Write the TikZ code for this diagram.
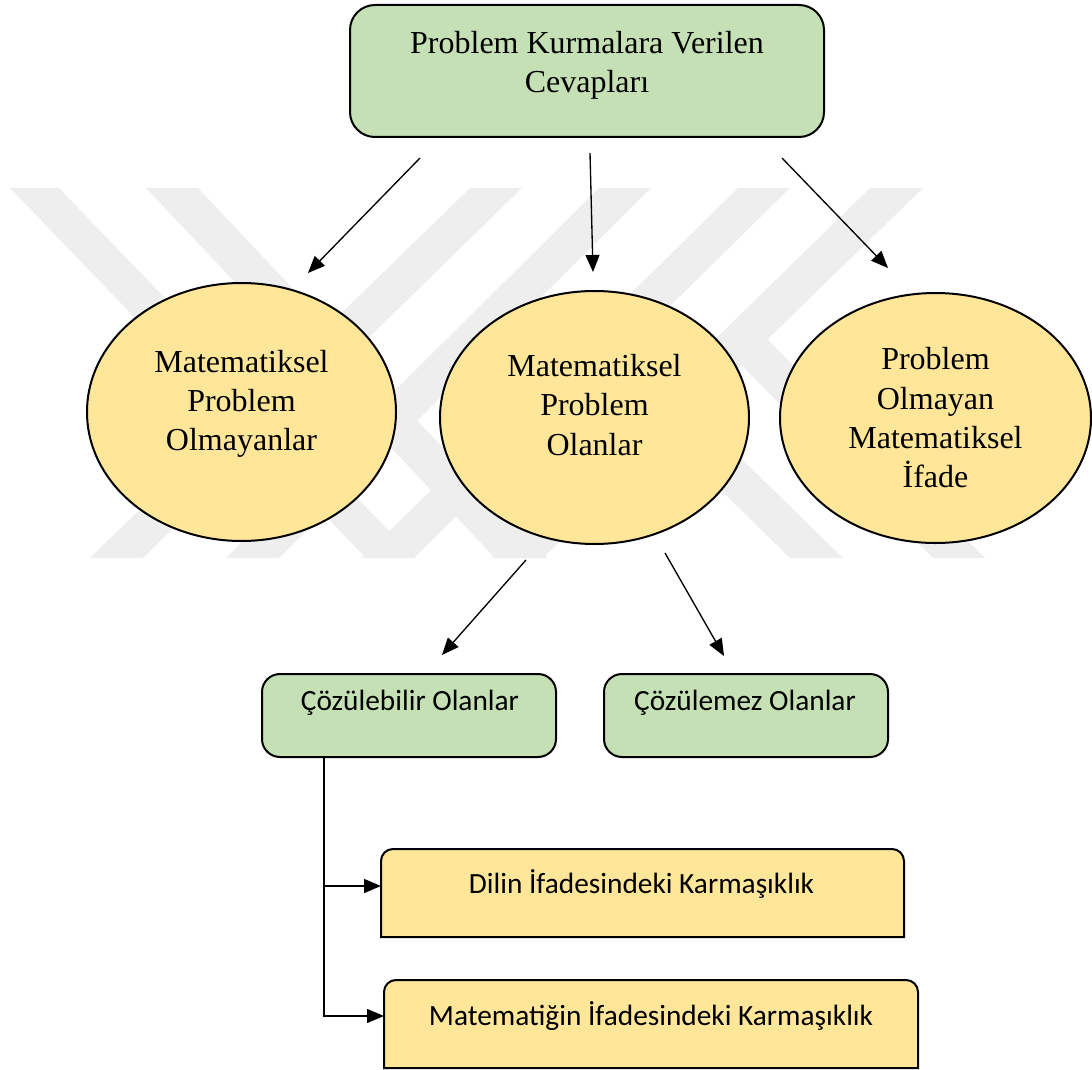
\documentclass[tikz,border=0pt]{standalone}
\usepackage{fontspec}
\setmainfont{Liberation Serif}
\newfontfamily\calibrifont{Carlito}
\usetikzlibrary{arrows.meta,shapes.geometric}
\definecolor{boxgreen}{HTML}{C5E0B4}
\definecolor{boxyellow}{HTML}{FFE699}
\definecolor{markgray}{HTML}{EEEEEE}

\begin{document}
\begin{tikzpicture}[x=0.75pt,y=-0.75pt,
  topbox/.style={draw=black,line width=1.5pt,fill=boxgreen,rounded corners=18.75pt,
    minimum width=355.5pt,minimum height=99pt,inner sep=0pt},
  greenbox/.style={draw=black,line width=1.5pt,fill=boxgreen,rounded corners=13.5pt,
    minimum height=62.25pt,inner sep=0pt},
  oval/.style={ellipse,draw=black,line width=1.5pt,fill=boxyellow,inner sep=0pt},
  tab/.style={minimum height=66pt,inner sep=0pt,outer sep=0pt},
  tabline/.style={draw=black,line width=1.5pt,fill=boxyellow},
  serif/.style={font=\fontsize{24}{29.5}\selectfont,align=center,inner sep=0pt},
  sans/.style={font=\calibrifont\fontsize{22}{26}\selectfont,inner sep=0pt,anchor=base},
  arr/.style={line width=1pt,-{Triangle[length=12.75pt,width=10.5pt]}},
  link/.style={line width=1pt},
  band/.style={fill=markgray,draw=none}
]
\useasboundingbox (0,0) rectangle (1092,1070);

% faint striped emblem in the background
\fill[band] (470,188) -- (522,188) -- (143,558) -- (90,558) -- cycle;
\fill[band] (599,188) -- (651,188) -- (279,558) -- (226,558) -- cycle;
\fill[band] (738,188) -- (790,188) -- (414,558) -- (362,558) -- cycle;
\fill[band] (870,188) -- (923,188) -- (543,558) -- (491,558) -- cycle;
\fill[band] (10,188) -- (59,188) -- (415,558) -- (366,558) -- cycle;
\fill[band] (146,188) -- (198,188) -- (547,558) -- (495,558) -- cycle;
\fill[band] (575,347) -- (627,347) -- (843,558) -- (790,558) -- cycle;
\fill[band] (716,340) -- (768,340) -- (985,558) -- (933,558) -- cycle;

% top box
\node[topbox] (top) at (587,71) {};
\node[serif] (toptxt) at (587,65) {Problem Kurmalara Verilen\\Cevapları};

% three categories
\node[oval,minimum width=231.75pt,minimum height=193.5pt] (e1) at (241.5,412) {};
\node[serif] (e1t) at (241.5,404) {Matematiksel\\Problem\\Olmayanlar};
\node[oval,minimum width=231.75pt,minimum height=189.75pt] (e2) at (594.5,417.5) {};
\node[serif] (e2t) at (594.5,405) {Matematiksel\\Problem\\Olanlar};
\node[oval,minimum width=233.25pt,minimum height=187.5pt] (e3) at (935.5,418) {};
\node[serif] (e3t) at (935.5,418) {Problem\\Olmayan\\Matematiksel\\İfade};

% solvable / unsolvable
\node[greenbox,minimum width=220.5pt] (ga) at (409,715.5) {};
\node[sans] (gat) at (410,710) {Çözülebilir Olanlar};
\node[greenbox,minimum width=213pt] (gb) at (746,715.5) {};
\node[sans] (gbt) at (745,710) {Çözülemez Olanlar};

% complexity boxes (rounded top corners only)
\node[tab,minimum width=392.25pt] (yc) at (642.5,893) {};
\node[tab,minimum width=400.5pt] (yd) at (651,1024) {};
\path[tabline] (yc.south west) -- ([yshift=-9pt]yc.north west)
  arc[start angle=180,end angle=90,radius=9pt] -- ([xshift=-9pt]yc.north east)
  arc[start angle=90,end angle=0,radius=9pt] -- (yc.south east) -- cycle;
\path[tabline] (yd.south west) -- ([yshift=-9pt]yd.north west)
  arc[start angle=180,end angle=90,radius=9pt] -- ([xshift=-9pt]yd.north east)
  arc[start angle=90,end angle=0,radius=9pt] -- (yd.south east) -- cycle;
\node[sans] (yct) at (641.5,893) {Dilin İfadesindeki Karmaşıklık};
\node[sans] (ydt) at (651,1025) {Matematiğin İfadesindeki Karmaşıklık};

% arrows from the top box
\coordinate (s1) at (420,158); \coordinate (t1) at (308,273);
\coordinate (s2) at (590,153); \coordinate (t2) at (593,272);
\coordinate (s3) at (782,158); \coordinate (t3) at (888,268);
\draw[arr] (s1) -- (t1);
\draw[arr] (s2) -- (t2);
\draw[arr] (s3) -- (t3);

% arrows below the middle ellipse
\coordinate (s4) at (526,560); \coordinate (t4) at (442,655);
\coordinate (s5) at (665,553); \coordinate (t5) at (724,656);
\draw[arr] (s4) -- (t4);
\draw[arr] (s5) -- (t5);

% elbow connector from the solvable box
\coordinate (k0) at (285,757);
\coordinate (k1) at (324,757);
\coordinate (j1) at (324,886);
\coordinate (j2) at (324,1016);
\draw[arr] (k0) -- (k1) -- (j2) -- (j2 -| yd.west);
\draw[arr] (j1) -- (j1 -| yc.west);
\end{tikzpicture}
\end{document}
